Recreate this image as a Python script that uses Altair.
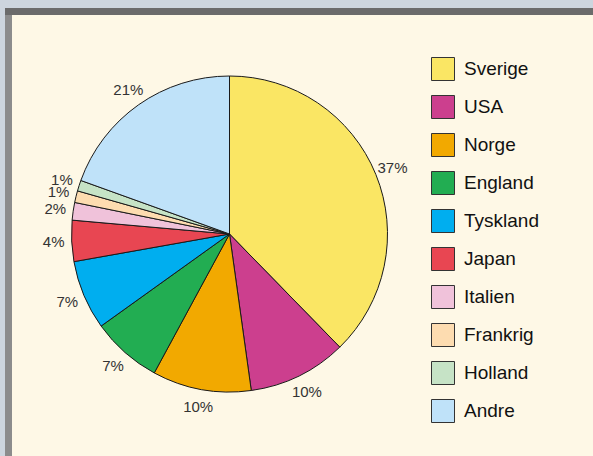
import altair as alt
import pandas as pd

countries = ["Sverige", "USA", "Norge", "England", "Tyskland", "Japan",
             "Italien", "Frankrig", "Holland", "Andre"]
shares = [37.7, 10.1, 10.1, 7.2, 7.1, 4.2, 1.8, 1.2, 1.1, 19.5]
labels = ["37%", "10%", "10%", "7%", "7%", "4%", "2%", "1%", "1%", "21%"]
colors = ["#fae664", "#cc3f8e", "#f2a900", "#22ad52", "#00aeef", "#e84652",
          "#f0c2da", "#fddcb0", "#c6e3c6", "#bfe2f9"]

df = pd.DataFrame({
    "land": countries,
    "andel": shares,
    "etikett": labels,
    "rang": list(range(len(countries))),
})

W, H = 593, 456
one = pd.DataFrame({"k": [0]})

frame_left = alt.Chart(one).mark_rect(color="#8c8c8c").encode(
    x=alt.value(5), x2=alt.value(12), y=alt.value(8), y2=alt.value(H))
frame_top = alt.Chart(one).mark_rect(color="#6b6b6b").encode(
    x=alt.value(5), x2=alt.value(W), y=alt.value(8), y2=alt.value(15))
panel = alt.Chart(one).mark_rect(color="#fef8e6").encode(
    x=alt.value(12), x2=alt.value(W), y=alt.value(15), y2=alt.value(H))

base = alt.Chart(df).encode(
    theta=alt.Theta("andel:Q", stack=True),
    order=alt.Order("rang:Q", sort="ascending"),
    x=alt.value(229.5), y=alt.value(234),
)

pie = base.mark_arc(radius=158, stroke="#1a1a1a", strokeWidth=1).encode(
    color=alt.Color(
        "land:N",
        scale=alt.Scale(domain=countries, range=colors),
        sort=countries,
        legend=alt.Legend(
            orient="none", legendX=431, legendY=57, title=None,
            symbolType="square", symbolSize=529, symbolStrokeWidth=1,
            symbolStrokeColor="#333333", symbolOpacity=1,
            labelFontSize=19, labelFont="Liberation Sans", labelColor="#111111",
            rowPadding=10, labelOffset=9, padding=0,
        ),
    )
)

text = base.mark_text(radius=176, fontSize=15, font="Liberation Sans",
                      color="#333333").encode(
    text="etikett:N",
    detail="land:N",
)

chart = alt.layer(frame_left, frame_top, panel, pie, text).properties(
    width=W, height=H,
    autosize=alt.AutoSizeParams(type="none"),
    padding=0,
    background="#cdd5de",
).configure_view(stroke=None)

chart.save("out.html", embed_options={"renderer": "svg", "actions": False})
